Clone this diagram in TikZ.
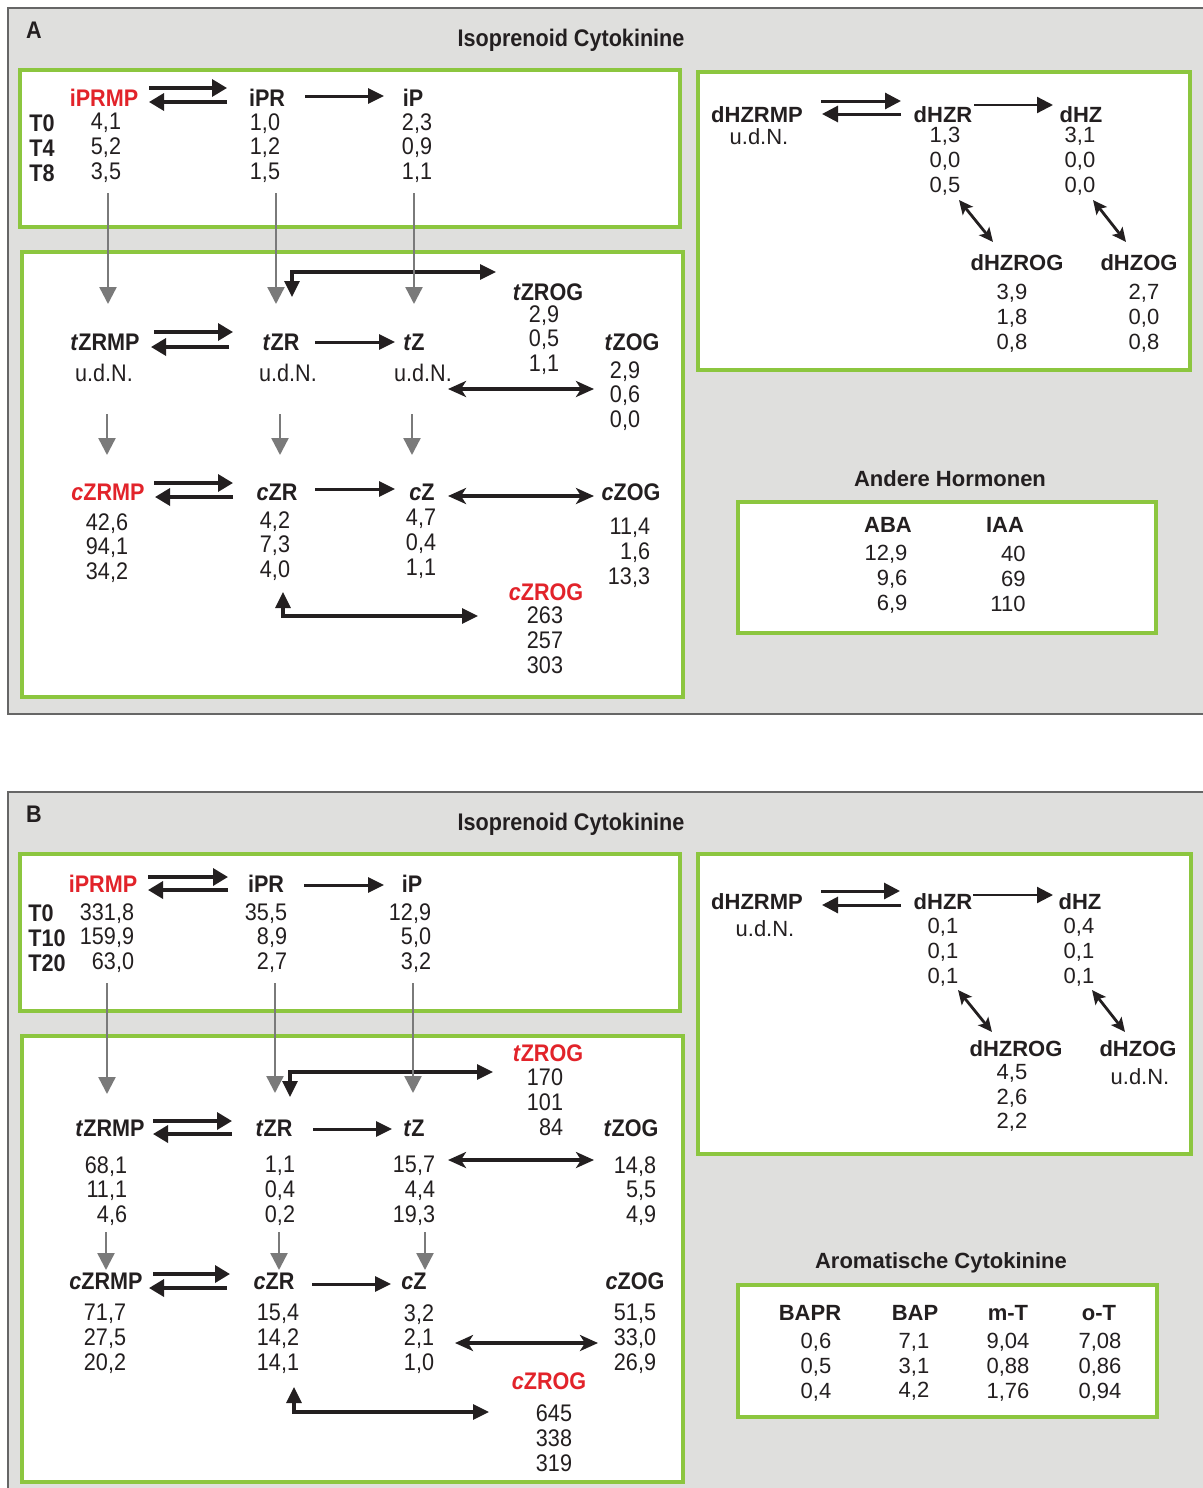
\documentclass[tikz,border=0pt]{standalone}
\usepackage{fontspec}
\setmainfont{Liberation Sans}
\newfontfamily\nar[FakeStretch=0.9]{Liberation Sans}
\usetikzlibrary{arrows.meta}
\definecolor{panelgray}{HTML}{DFDFDD}
\definecolor{boxgreen}{HTML}{8CC63F}
\definecolor{hred}{HTML}{E2232A}
\definecolor{arrgray}{HTML}{7A7A7A}
\definecolor{txt}{HTML}{231F20}
\tikzset{
  panel/.style={fill=panelgray, draw=black!60, line width=0.6pt},
  gbox/.style={fill=white, draw=boxgreen, line width=2pt},
  L/.style={inner sep=0pt, text=txt, font=\nar\fontsize{12}{12.5}\selectfont\bfseries},
  N/.style={inner sep=0pt, text=txt, align=center, font=\nar\fontsize{12}{12.4}\selectfont},
  NR/.style={N, align=right},
  RL/.style={inner sep=0pt, text=txt, font=\fontsize{11}{12.5}\selectfont\bfseries},
  RN/.style={inner sep=0pt, text=txt, align=center, font=\fontsize{11}{12.4}\selectfont},
  RNR/.style={RN, align=right},
  hl/.style={text=hred},
  blk/.style={draw=txt, line width=1.7pt, -{Triangle[length=7.5pt,width=8.5pt]}},
  sgl/.style={draw=txt, line width=1.5pt, -{Triangle[length=8pt,width=7.5pt]}},
  dbl/.style={draw=txt, line width=1.6pt, {Stealth[length=9pt,width=8pt,inset=2.5pt]}-{Stealth[length=9pt,width=8pt,inset=2.5pt]}},
  bent/.style={draw=txt, line width=1.6pt, {Triangle[length=8pt,width=7.5pt]}-{Triangle[length=8pt,width=7.5pt]}},
  rblk/.style={draw=txt, line width=1.5pt, -{Triangle[length=8pt,width=8pt]}},
  rdbl/.style={draw=txt, line width=1.4pt, {Stealth[length=7pt,width=6.5pt,inset=1.5pt]}-{Stealth[length=7pt,width=6.5pt,inset=1.5pt]}},
  gry/.style={draw=arrgray, line width=1.2pt, -{Triangle[length=8.5pt,width=8.5pt]}}
}
\begin{document}
\begin{tikzpicture}[x=0.5pt,y=-0.5pt]
\useasboundingbox (0,0) rectangle (1203,1488);
\fill[white] (0,0) rectangle (1203,1488);

% ================= Panel A =================
\draw[panel] (8,8) rectangle (1215,714);
\node[L] (Alab) at (34,30) {A};
\node[L] (Atitle) at (571,40) {Isoprenoid Cytokinine};
\draw[gbox] (20,70) rectangle (680,227);
\draw[gbox] (22,252) rectangle (683,697);
\draw[gbox] (698,72) rectangle (1190,370);
\draw[gbox] (738,502) rectangle (1156,633);

% box 1
\node[L,hl] (aiprmp) at (104,98) {iPRMP};
\node[L,align=left] (aT) at (42,148) {T0\\T4\\T8};
\node[N] (aiprmpv) at (106,148) {4,1\\5,2\\3,5};
\node[L] (aipr) at (267,98) {iPR};
\node[N] (aiprv) at (265,148) {1,0\\1,2\\1,5};
\node[L] (aip) at (413,98) {iP};
\node[N] (aipv) at (417,148) {2,3\\0,9\\1,1};
\draw[blk] (149,88) -- (227,88);
\draw[blk] (227,102) -- (149,102);
\draw[sgl] (305,96) -- (384,96);

% box 2
\draw[bent] (292,297) -- (292,272) -- (496,272);
\node[L] (atzrog) at (548,292) {\textit{t}ZROG};
\node[N] (atzrogv) at (544,340) {2,9\\0,5\\1,1};
\node[L] (atzrmp) at (105,342) {\textit{t}ZRMP};
\node[N] (atzrmpu) at (104,373) {u.d.N.};
\draw[blk] (154,332) -- (233,332);
\draw[blk] (229,347) -- (151,347);
\node[L] (atzr) at (281,342) {\textit{t}ZR};
\node[N] (atzru) at (288,373) {u.d.N.};
\draw[sgl] (315,342) -- (395,342);
\node[L] (atz) at (414,342) {\textit{t}Z};
\node[N] (atzu) at (423,373) {u.d.N.};
\node[L] (atzog) at (632,342) {\textit{t}ZOG};
\node[N] (atzogv) at (625,396) {2,9\\0,6\\0,0};
\draw[dbl] (448,389) -- (594,389);
\node[L,hl] (aczrmp) at (108,492) {\textit{c}ZRMP};
\node[N] (aczrmpv) at (107,548) {42,6\\94,1\\34,2};
\draw[blk] (154,483) -- (233,483);
\draw[blk] (233,497) -- (155,497);
\node[L] (aczr) at (277,492) {\textit{c}ZR};
\node[N] (aczrv) at (275,546) {4,2\\7,3\\4,0};
\draw[sgl] (315,489) -- (395,489);
\node[L] (acz) at (422,492) {\textit{c}Z};
\node[N] (aczv) at (421,544) {4,7\\0,4\\1,1};
\draw[dbl] (448,496) -- (594,496);
\node[L] (aczog) at (631,492) {\textit{c}ZOG};
\node[NR] (aczogv) at (629,553) {11,4\\1,6\\13,3};
\node[L,hl] (aczrog) at (546,592) {\textit{c}ZROG};
\node[N] (aczrogv) at (545,640) {263\\257\\303};
\draw[bent] (283,592) -- (283,616) -- (478,616);

% gray arrows
\draw[gry] (108,193) -- (108,304);
\draw[gry] (276,193) -- (276,304);
\draw[gry] (414,193) -- (414,304);
\draw[gry] (107,414) -- (107,455);
\draw[gry] (280,414) -- (280,455);
\draw[gry] (412,414) -- (412,455);

% box 3
\node[RL] (adhzrmp) at (757,115) {dHZRMP};
\node[RN] (adhzrmpu) at (759,137) {u.d.N.};
\draw[rblk] (821,101) -- (901,101);
\draw[rblk] (901,114) -- (822,114);
\node[RL] (adhzr) at (943,115) {dHZR};
\node[RN] (adhzrv) at (945,161) {1,3\\0,0\\0,5};
\draw[rblk, line width=1.1pt] (974,105) -- (1053,105);
\node[RL] (adhz) at (1081,115) {dHZ};
\node[RN] (adhzv) at (1080,161) {3,1\\0,0\\0,0};
\draw[rdbl] (959,200) -- (993,242);
\draw[rdbl] (1093,200) -- (1126,242);
\node[RL] (adhzrog) at (1017,263) {dHZROG};
\node[RN] (adhzrogv) at (1012,318) {3,9\\1,8\\0,8};
\node[RL] (adhzog) at (1139,263) {dHZOG};
\node[RN] (adhzogv) at (1144,318) {2,7\\0,0\\0,8};

% box 4
\node[RL] (aandere) at (950,479) {Andere Hormonen};
\node[RL] (aaba) at (888,525) {ABA};
\node[RNR] (aabav) at (886,579) {12,9\\9,6\\6,9};
\node[RL] (aiaa) at (1005,525) {IAA};
\node[RNR] (aiaav) at (1008,579) {40\\69\\110};

% ================= Panel B =================
\draw[panel] (8,792) rectangle (1215,1495);
\node[L] (Blab) at (34,814) {B};
\node[L] (Btitle) at (571,824) {Isoprenoid Cytokinine};
\draw[gbox] (20,854) rectangle (680,1011);
\draw[gbox] (22,1036) rectangle (683,1482);
\draw[gbox] (698,854) rectangle (1191,1154);
\draw[gbox] (738,1285) rectangle (1157,1417);

% box 1
\node[L,hl] (biprmp) at (103,884) {iPRMP};
\draw[blk] (148,877) -- (228,877);
\draw[blk] (228,890) -- (148,890);
\node[L,align=left] (bT) at (47,938) {T0\\T10\\T20};
\node[NR] (biprmpv) at (107,938) {331,8\\159,9\\63,0};
\node[L] (bipr) at (266,884) {iPR};
\node[NR] (biprv) at (266,938) {35,5\\8,9\\2,7};
\draw[sgl] (304,885) -- (384,885);
\node[L] (bip) at (412,884) {iP};
\node[NR] (bipv) at (410,938) {12,9\\5,0\\3,2};

% box 2
\draw[bent] (290,1097) -- (290,1072) -- (493,1072);
\node[L,hl] (btzrog) at (548,1053) {\textit{t}ZROG};
\node[NR] (btzrogv) at (545,1102) {170\\101\\84};
\node[L] (btzrmp) at (110,1128) {\textit{t}ZRMP};
\draw[blk] (153,1121) -- (232,1121);
\draw[blk] (232,1134) -- (153,1134);
\node[L] (btzr) at (274,1128) {\textit{t}ZR};
\draw[sgl] (313,1129) -- (392,1129);
\node[L] (btz) at (414,1128) {\textit{t}Z};
\node[L] (btzog) at (631,1128) {\textit{t}ZOG};
\node[NR] (btzrmpv) at (106,1191) {68,1\\11,1\\4,6};
\node[N] (btzrv) at (280,1191) {1,1\\0,4\\0,2};
\node[NR] (btzv) at (414,1191) {15,7\\4,4\\19,3};
\node[NR] (btzogv) at (635,1191) {14,8\\5,5\\4,9};
\draw[dbl] (448,1160) -- (594,1160);
\node[L] (bczrmp) at (106,1281) {\textit{c}ZRMP};
\draw[blk] (153,1274) -- (230,1274);
\draw[blk] (227,1288) -- (149,1288);
\node[L] (bczr) at (274,1281) {\textit{c}ZR};
\draw[sgl] (312,1284) -- (391,1284);
\node[L] (bcz) at (414,1281) {\textit{c}Z};
\node[L] (bczog) at (635,1281) {\textit{c}ZOG};
\node[N] (bczrmpv) at (105,1339) {71,7\\27,5\\20,2};
\node[N] (bczrv) at (278,1339) {15,4\\14,2\\14,1};
\node[N] (bczv) at (419,1339) {3,2\\2,1\\1,0};
\node[N] (bczogv) at (635,1339) {51,5\\33,0\\26,9};
\draw[dbl] (455,1343) -- (598,1343);
\node[L,hl] (bczrog) at (549,1381) {\textit{c}ZROG};
\node[N] (bczrogv) at (554,1438) {645\\338\\319};
\draw[bent] (294,1387) -- (294,1412) -- (489,1412);

% gray arrows
\draw[gry] (107,983) -- (107,1094);
\draw[gry] (275,983) -- (275,1093);
\draw[gry] (413,983) -- (413,1093);
\draw[gry] (106,1232) -- (106,1270);
\draw[gry] (279,1232) -- (279,1270);
\draw[gry] (425,1232) -- (425,1270);

% box 3
\node[RL] (bdhzrmp) at (757,902) {dHZRMP};
\node[RN] (bdhzrmpu) at (765,929) {u.d.N.};
\draw[rblk] (821,891) -- (900,891);
\draw[rblk] (901,905) -- (822,905);
\node[RL] (bdhzr) at (943,902) {dHZR};
\node[RN] (bdhzrv) at (943,952) {0,1\\0,1\\0,1};
\draw[rblk, line width=1.1pt] (973,895) -- (1053,895);
\node[RL] (bdhz) at (1080,902) {dHZ};
\node[RN] (bdhzv) at (1079,952) {0,4\\0,1\\0,1};
\draw[rdbl] (958,990) -- (992,1032);
\draw[rdbl] (1092,990) -- (1125,1032);
\node[RL] (bdhzrog) at (1016,1049) {dHZROG};
\node[RN] (bdhzrogv) at (1012,1098) {4,5\\2,6\\2,2};
\node[RL] (bdhzog) at (1138,1049) {dHZOG};
\node[RN] (bdhzogu) at (1140,1077) {u.d.N.};

% box 4
\node[RL] (barom) at (941,1263) {Aromatische Cytokinine};
\node[RL] (bbapr) at (810,1313) {BAPR};
\node[RL] (bbap) at (915,1313) {BAP};
\node[RL] (bmt) at (1008,1313) {m-T};
\node[RL] (bot) at (1099,1313) {o-T};
\node[RN] (bbaprv) at (816,1367) {0,6\\0,5\\0,4};
\node[RN] (bbapv) at (914,1367) {7,1\\3,1\\4,2};
\node[RNR] (bmtv) at (1008,1367) {9,04\\0,88\\1,76};
\node[RN] (botv) at (1100,1367) {7,08\\0,86\\0,94};
\end{tikzpicture}
\end{document}
